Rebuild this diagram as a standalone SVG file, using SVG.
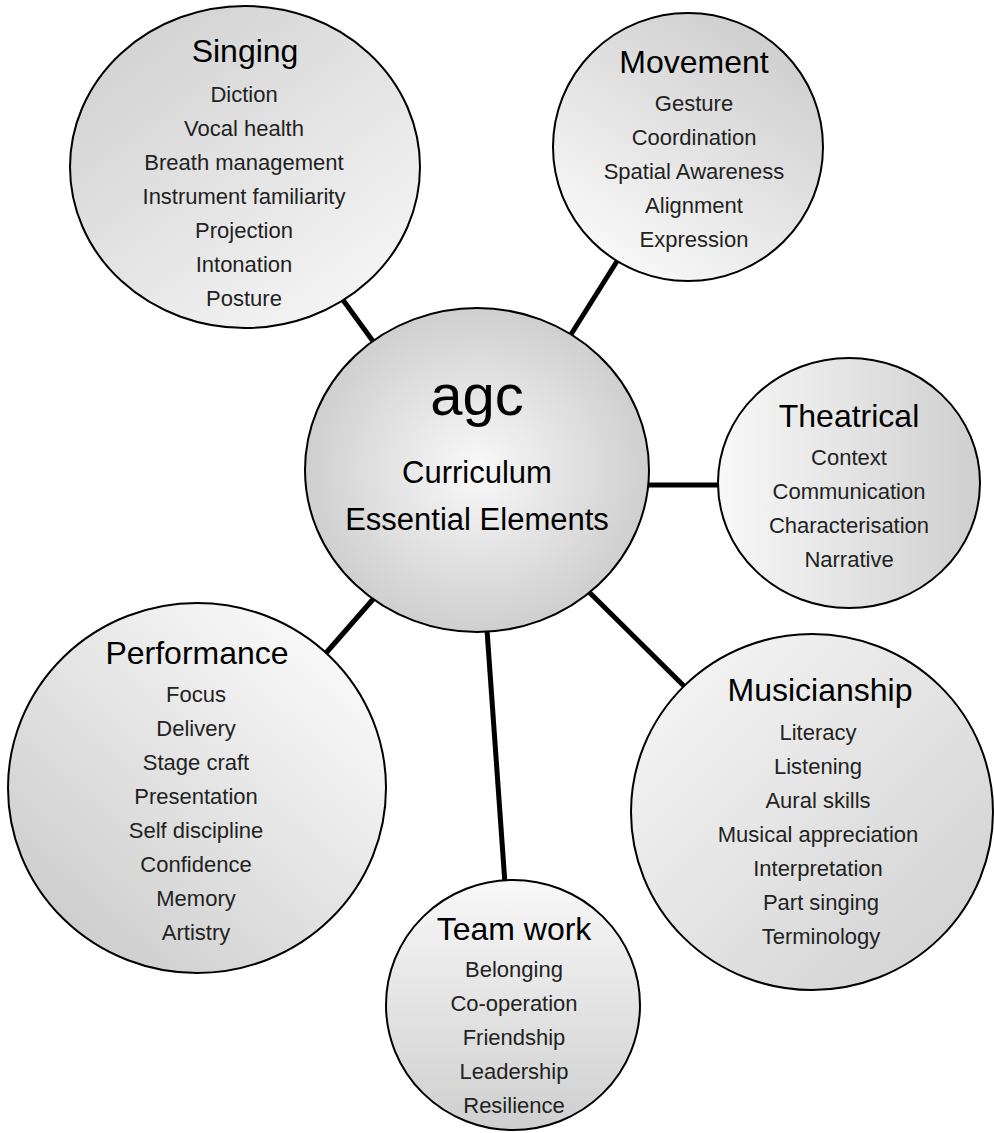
<svg xmlns="http://www.w3.org/2000/svg" width="994" height="1133" viewBox="0 0 994 1133">
<defs>
<linearGradient id="gSing" x1="0.1" y1="0" x2="0.9" y2="1">
<stop offset="0" stop-color="#cfcfcf"/>
<stop offset="1" stop-color="#f8f8f8"/>
</linearGradient>
<linearGradient id="gMove" x1="0.78" y1="0.08" x2="0.22" y2="0.92">
<stop offset="0" stop-color="#cfcfcf"/>
<stop offset="1" stop-color="#f8f8f8"/>
</linearGradient>
<linearGradient id="gThea" x1="1" y1="0.5" x2="0" y2="0.5">
<stop offset="0" stop-color="#cfcfcf"/>
<stop offset="1" stop-color="#f8f8f8"/>
</linearGradient>
<linearGradient id="gPerf" x1="0.17" y1="0.87" x2="0.83" y2="0.13">
<stop offset="0" stop-color="#cfcfcf"/>
<stop offset="1" stop-color="#f8f8f8"/>
</linearGradient>
<linearGradient id="gMus" x1="1" y1="1" x2="0" y2="0">
<stop offset="0" stop-color="#cfcfcf"/>
<stop offset="1" stop-color="#f8f8f8"/>
</linearGradient>
<linearGradient id="gTeam" x1="0.5" y1="1" x2="0.5" y2="0">
<stop offset="0" stop-color="#cfcfcf"/>
<stop offset="1" stop-color="#f8f8f8"/>
</linearGradient>
<radialGradient id="ctr" cx="0.5" cy="0.5" r="0.5">
<stop offset="0" stop-color="#f9f9f9"/>
<stop offset="1" stop-color="#cfcfcf"/>
</radialGradient>
<style>
.sat{stroke:#000;stroke-width:2}
.ctr{fill:url(#ctr);stroke:#000;stroke-width:2}
.con{stroke:#000;stroke-width:5;fill:none}
text{font-family:"Liberation Sans",Arial,sans-serif;text-anchor:middle;fill:#000}
.t{font-size:32px}
.i{font-size:22px;fill:#222}
</style>
</defs>
<rect width="994" height="1133" fill="#fff"/>
<g id="connectors">
<line class="con" x1="343" y1="300" x2="375" y2="344"/>
<line class="con" x1="619" y1="258" x2="570" y2="336"/>
<line class="con" x1="646" y1="485" x2="720" y2="485"/>
<line class="con" x1="589" y1="592" x2="687" y2="689"/>
<line class="con" x1="487" y1="630" x2="505" y2="884"/>
<line class="con" x1="375" y1="597" x2="326" y2="653"/>
</g>
<g id="singing">
<ellipse class="sat" fill="url(#gSing)" cx="245" cy="167" rx="175" ry="161"/>
<text class="t" x="245" y="62">Singing</text>
<text class="i" x="244" y="102">Diction</text>
<text class="i" x="244" y="136">Vocal health</text>
<text class="i" x="244" y="170">Breath management</text>
<text class="i" x="244" y="204">Instrument familiarity</text>
<text class="i" x="244" y="238">Projection</text>
<text class="i" x="244" y="272">Intonation</text>
<text class="i" x="244" y="306">Posture</text>
</g>
<g id="movement">
<ellipse class="sat" fill="url(#gMove)" cx="688" cy="147" rx="135" ry="134"/>
<text class="t" x="694" y="73">Movement</text>
<text class="i" x="694" y="111">Gesture</text>
<text class="i" x="694" y="145">Coordination</text>
<text class="i" x="694" y="179">Spatial Awareness</text>
<text class="i" x="694" y="213">Alignment</text>
<text class="i" x="694" y="247">Expression</text>
</g>
<g id="center">
<ellipse class="ctr" cx="477" cy="470" rx="172" ry="162"/>
<text x="477" y="415" style="font-size:58px">agc</text>
<text x="477" y="483" style="font-size:31px">Curriculum</text>
<text x="477" y="530" style="font-size:31px">Essential Elements</text>
</g>
<g id="theatrical">
<ellipse class="sat" fill="url(#gThea)" cx="849" cy="483" rx="131" ry="125"/>
<text class="t" x="849" y="427">Theatrical</text>
<text class="i" x="849" y="465">Context</text>
<text class="i" x="849" y="499">Communication</text>
<text class="i" x="849" y="533">Characterisation</text>
<text class="i" x="849" y="567">Narrative</text>
</g>
<g id="performance">
<ellipse class="sat" fill="url(#gPerf)" cx="197" cy="788" rx="189" ry="185"/>
<text class="t" x="197" y="664">Performance</text>
<text class="i" x="196" y="702">Focus</text>
<text class="i" x="196" y="736">Delivery</text>
<text class="i" x="196" y="770">Stage craft</text>
<text class="i" x="196" y="804">Presentation</text>
<text class="i" x="196" y="838">Self discipline</text>
<text class="i" x="196" y="872">Confidence</text>
<text class="i" x="196" y="906">Memory</text>
<text class="i" x="196" y="940">Artistry</text>
</g>
<g id="musicianship">
<ellipse class="sat" fill="url(#gMus)" cx="812" cy="812" rx="181" ry="178"/>
<text class="t" x="820" y="701">Musicianship</text>
<text class="i" x="818" y="740">Literacy</text>
<text class="i" x="818" y="774">Listening</text>
<text class="i" x="818" y="808">Aural skills</text>
<text class="i" x="818" y="842">Musical appreciation</text>
<text class="i" x="818" y="876">Interpretation</text>
<text class="i" x="821" y="910">Part singing</text>
<text class="i" x="821" y="944">Terminology</text>
</g>
<g id="teamwork">
<ellipse class="sat" fill="url(#gTeam)" cx="513" cy="1005" rx="127" ry="125"/>
<text class="t" x="514" y="940">Team work</text>
<text class="i" x="514" y="977">Belonging</text>
<text class="i" x="514" y="1011">Co-operation</text>
<text class="i" x="514" y="1045">Friendship</text>
<text class="i" x="514" y="1079">Leadership</text>
<text class="i" x="514" y="1113">Resilience</text>
</g>
</svg>
